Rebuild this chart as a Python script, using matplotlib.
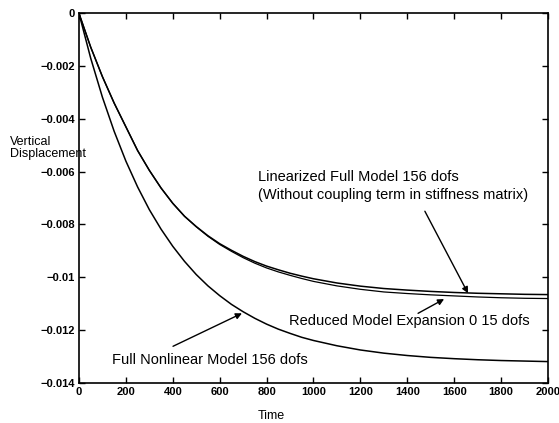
import matplotlib
matplotlib.use("Agg")
import matplotlib.pyplot as plt

plt.rcParams['font.family'] = ['Liberation Sans', 'DejaVu Sans']

# time samples
time = [0, 50, 100, 150, 200, 250, 300, 350, 400, 450, 500, 550, 600, 650, 700,
        750, 800, 850, 900, 950, 1000, 1100, 1200, 1300, 1400, 1500, 1600,
        1700, 1800, 1900, 2000]

full_nonlinear = [0, -0.00170, -0.00318, -0.00447, -0.00560, -0.00658, -0.00744,
                  -0.00818, -0.00883, -0.00940, -0.00990, -0.01033, -0.01070,
                  -0.01103, -0.01131, -0.01156, -0.01178, -0.01197, -0.01213,
                  -0.01228, -0.01240, -0.01260, -0.01276, -0.01288, -0.01297,
                  -0.01304, -0.01309, -0.01313, -0.01316, -0.01318, -0.01320]

linearized = [0, -0.00128, -0.00240, -0.00340, -0.00430, -0.00520, -0.00595,
              -0.00662, -0.00720, -0.00769, -0.00808, -0.00843, -0.00873,
              -0.00898, -0.00921, -0.00941, -0.00958, -0.00972, -0.00985,
              -0.00996, -0.01006, -0.01022, -0.01034, -0.01043, -0.01049,
              -0.01054, -0.01058, -0.01061, -0.01063, -0.01065, -0.01066]

reduced = [0, -0.00128, -0.00240, -0.00340, -0.00430, -0.00520, -0.00595,
           -0.00662, -0.00720, -0.00769, -0.00809, -0.00845, -0.00876,
           -0.00902, -0.00926, -0.00947, -0.00965, -0.00980, -0.00993,
           -0.01005, -0.01016, -0.01033, -0.01046, -0.01056, -0.01062,
           -0.01067, -0.01071, -0.01075, -0.01078, -0.01080, -0.01081]

xticks = [0, 200, 400, 600, 800, 1000, 1200, 1400, 1600, 1800, 2000]
yticks = [0, -0.002, -0.004, -0.006, -0.008, -0.01, -0.012, -0.014]
ytick_labels = ['0', '\u22120.002', '\u22120.004', '\u22120.006', '\u22120.008',
                '\u22120.01', '\u22120.012', '\u22120.014']

fig = plt.figure(figsize=(5.59, 4.23), dpi=100)
ax = fig.add_axes([0.1413, 0.0953, 0.839, 0.873])

ax.plot(time, full_nonlinear, 'k', lw=1.1)
ax.plot(time, linearized, 'k', lw=1.1)
ax.plot(time, reduced, 'k', lw=0.9)

ax.set_xlim(0, 2000)
ax.set_ylim(-0.014, 0)
ax.set_xticks(xticks)
ax.set_xticklabels([str(v) for v in xticks])
ax.set_yticks(yticks)
ax.set_yticklabels(ytick_labels)
ax.tick_params(direction='in', top=True, right=True, length=4, width=1,
               labelsize=8, pad=3)
for lab in ax.get_xticklabels() + ax.get_yticklabels():
    lab.set_fontweight('bold')
for sp in ax.spines.values():
    sp.set_linewidth(1.2)

arrow = dict(arrowstyle='-|>', color='k', lw=1.0, mutation_scale=9,
             shrinkA=0, shrinkB=0)

ax.text(763, -0.00620, 'Linearized Full Model 156 dofs', fontsize=10.5, va='center')
ax.text(763, -0.00689, '(Without coupling term in stiffness matrix)', fontsize=10.5,
        va='center')
ax.annotate('', xy=(1659, -0.01061), xytext=(1475, -0.00750), arrowprops=arrow)

ax.text(896, -0.01167, 'Reduced Model Expansion 0 15 dofs', fontsize=10.5, va='center')
ax.annotate('', xy=(1557, -0.01083), xytext=(1446, -0.01137), arrowprops=arrow)

ax.text(141, -0.01315, 'Full Nonlinear Model 156 dofs', fontsize=10.5, va='center')
ax.annotate('', xy=(695, -0.01137), xytext=(401, -0.01262), arrowprops=arrow)

fig.text(10 / 559, 1 - 148 / 423, 'Vertical\nDisplacement', fontsize=9,
         ha='left', va='center', linespacing=1.1)
fig.text(271 / 559, 1 - 416 / 423, 'Time', fontsize=9, ha='center', va='center')

fig.savefig('out.png', dpi=100)
